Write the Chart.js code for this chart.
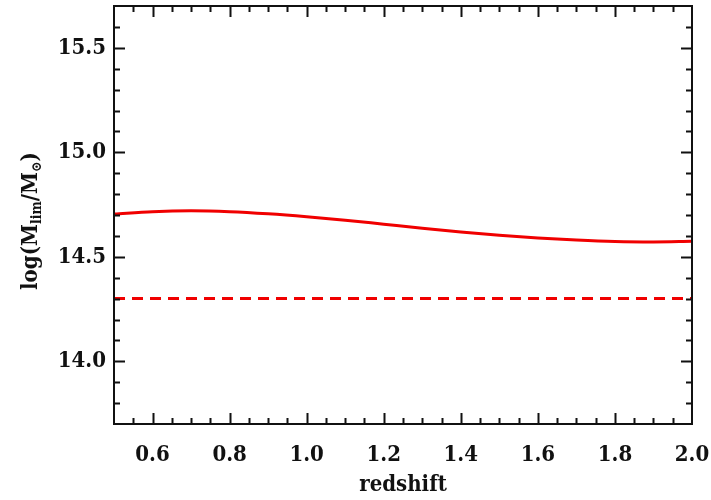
<!DOCTYPE html>
<html>
<head>
<meta charset="utf-8">
<script src="https://cdn.jsdelivr.net/npm/chart.js@4.4.0/dist/chart.umd.min.js"></script>
<style>
html,body{margin:0;padding:0;background:#fff;}
#wrap{width:711px;height:500px;}
</style>
</head>
<body>
<div id="wrap"><canvas id="c" width="711" height="500"></canvas></div>
<script>
// ---- data ----
const redshift = [0.5,0.6,0.7,0.8,0.9,1.0,1.1,1.2,1.3,1.4,1.5,1.6,1.7,1.8,1.9,2.0];
const logMlim  = [14.705,14.716,14.720,14.716,14.706,14.692,14.675,14.656,14.637,14.619,14.603,14.590,14.580,14.573,14.571,14.574];
const logMthreshold = [14.30,14.30,14.30,14.30,14.30,14.30,14.30,14.30,14.30,14.30,14.30,14.30,14.30,14.30,14.30,14.30];
const xTickLabels = [0.6,0.8,1.0,1.2,1.4,1.6,1.8,2.0];
const yTickLabels = [14.0,14.5,15.0,15.5];
const xRange = [0.5,2.0];
const yRange = [13.7,15.7];
const xMinorStep = 0.05;
const yMinorStep = 0.1;

const FONT = '"DejaVu Serif Condensed", "DejaVu Serif", serif';
const FS = 22;

const frameTicks = {
  id:'frameTicks',
  afterDraw(chart){
    const ctx = chart.ctx, a = chart.chartArea;
    const xs = chart.scales.x, ys = chart.scales.y;
    ctx.save();
    ctx.strokeStyle = '#111';
    ctx.lineWidth = 2;
    ctx.strokeRect(a.left, a.top, a.right-a.left, a.bottom-a.top);
    const major = 11, minor = 6;
    ctx.beginPath();
    const nx = Math.round((xRange[1]-xRange[0])/xMinorStep);
    for(let i=1;i<nx;i++){
      const v = xRange[0]+i*xMinorStep;
      const isMaj = xTickLabels.some(t=>Math.abs(t-v)<1e-6);
      const L = isMaj?major:minor;
      const px = Math.round(xs.getPixelForValue(v))+0.5;
      ctx.moveTo(px,a.bottom); ctx.lineTo(px,a.bottom-L);
      ctx.moveTo(px,a.top); ctx.lineTo(px,a.top+L);
    }
    const ny = Math.round((yRange[1]-yRange[0])/yMinorStep);
    for(let i=1;i<ny;i++){
      const v = yRange[0]+i*yMinorStep;
      const isMaj = yTickLabels.some(t=>Math.abs(t-v)<1e-6);
      const L = isMaj?major:minor;
      const py = Math.round(ys.getPixelForValue(v))+0.5;
      ctx.moveTo(a.left,py); ctx.lineTo(a.left+L,py);
      ctx.moveTo(a.right,py); ctx.lineTo(a.right-L,py);
    }
    ctx.lineWidth = 2;
    ctx.stroke();

    // y axis title with subscripts
    const big = 'bold '+FS+'px '+FONT, small = 'bold 14px '+FONT;
    const parts = [
      {t:'log(M', f:big, dy:0},
      {t:'lim', f:small, dy:6},
      {t:'/M', f:big, dy:0},
      {t:'\u2299', f:small, dy:6},
      {t:')', f:big, dy:0}
    ];
    let total = 0;
    parts.forEach(p=>{ctx.font=p.f; p.w=ctx.measureText(p.t).width; total+=p.w;});
    ctx.translate(31, 221);
    ctx.rotate(-Math.PI/2);
    ctx.fillStyle = '#111';
    ctx.textBaseline = 'middle';
    ctx.textAlign = 'left';
    let x = -total/2;
    parts.forEach(p=>{ctx.font=p.f; ctx.fillText(p.t, x, p.dy); x+=p.w;});
    ctx.restore();
  }
};

new Chart(document.getElementById('c'), {
  type:'line',
  data:{
    datasets:[
      {data: redshift.map((z,i)=>({x:z,y:logMlim[i]})), borderColor:'#f00000', borderWidth:3, pointRadius:0, cubicInterpolationMode:'monotone', fill:false},
      {data: redshift.map((z,i)=>({x:z,y:logMthreshold[i]})), borderColor:'#f00000', borderWidth:3, borderDash:[11,7], pointRadius:0, fill:false}
    ]
  },
  options:{
    responsive:false,
    animation:false,
    devicePixelRatio:1,
    layout:{padding:{left:0,top:6,right:19,bottom:0}},
    plugins:{legend:{display:false}, tooltip:{enabled:false}},
    scales:{
      x:{
        type:'linear', min:xRange[0], max:xRange[1],
        grid:{display:false, drawTicks:false}, border:{display:false},
        afterBuildTicks(s){ s.ticks = xTickLabels.map(v=>({value:v})); },
        afterFit(s){ s.height = 76; s.paddingLeft = 0; s.paddingRight = 0; },
        ticks:{color:'#111', font:{family:FONT, size:FS, weight:'bold'}, padding:18, maxRotation:0, autoSkip:false,
          callback:(v)=>Number(v).toFixed(1)},
        title:{display:true, text:'redshift', color:'#111', font:{family:FONT, size:FS, weight:'bold'}, padding:{top:0,bottom:2}}
      },
      y:{
        type:'linear', min:yRange[0], max:yRange[1],
        grid:{display:false, drawTicks:false}, border:{display:false},
        afterBuildTicks(s){ s.ticks = yTickLabels.map(v=>({value:v})); },
        afterFit(s){ s.width = 114; s.paddingTop = 0; s.paddingBottom = 0; },
        ticks:{color:'#111', font:{family:FONT, size:FS, weight:'bold'}, padding:8, autoSkip:false,
          callback:(v)=>Number(v).toFixed(1)}
      }
    }
  },
  plugins:[frameTicks]
});
</script>
</body>
</html>
